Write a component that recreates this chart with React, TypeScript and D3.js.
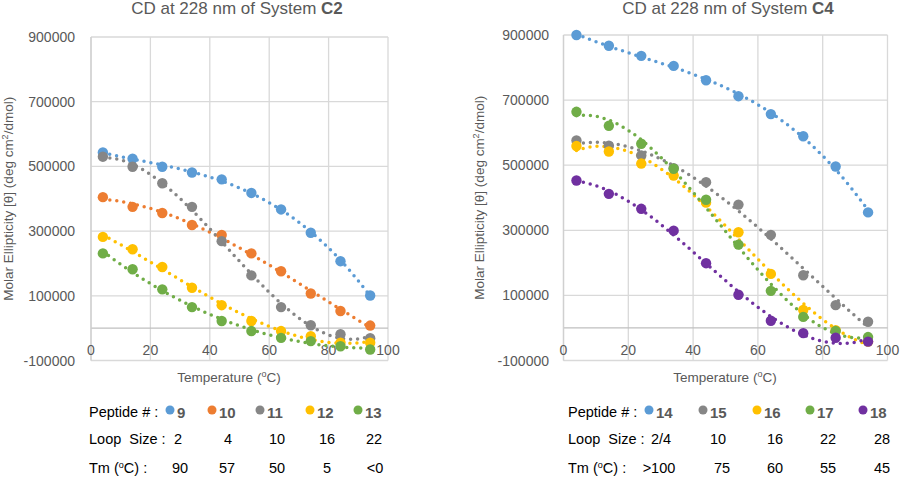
import React from "react";
import * as d3 from "d3";

const temperatures = [4, 14, 24, 34, 44, 54, 64, 74, 84, 94];

// System C2
const c2Peptides = ["9", "10", "11", "12", "13"];
const c2Loop = ["2", "4", "10", "16", "22"];
const c2Tm = ["90", "57", "50", "5", "<0"];
const p9 = [543000, 524000, 499000, 481000, 460000, 418000, 367000, 295000, 207000, 101000];
const p10 = [405000, 375000, 356000, 319000, 288000, 231000, 176000, 107000, 53000, 8000];
const p11 = [530000, 499000, 448000, 375000, 269000, 163000, 65000, 9000, -19000, -31000];
const p12 = [282000, 244000, 189000, 125000, 71000, 22000, -9000, -25000, -45000, -45000];
const p13 = [231000, 182000, 120000, 65000, 22000, -9000, -30000, -40000, -56000, -66000];

// System C4
const c4Peptides = ["14", "15", "16", "17", "18"];
const c4Loop = ["2/4", "10", "16", "22", "28"];
const c4Tm = [">100", "75", "60", "55", "45"];
const p14 = [900000, 867000, 836000, 805000, 761000, 712000, 657000, 589000, 496000, 355000];
const p15 = [576000, 560000, 530000, 491000, 448000, 379000, 286000, 162000, 70000, 19000];
const p16 = [559000, 542000, 505000, 468000, 385000, 294000, 166000, 55000, -7000, -42000];
const p17 = [664000, 621000, 566000, 489000, 394000, 256000, 114000, 34000, -9000, -28000];
const p18 = [453000, 412000, 366000, 299000, 199000, 102000, 22000, -16000, -30000, -42000];

const xTicks = [0, 20, 40, 60, 80, 100];
const yTicks = [-100000, 100000, 300000, 500000, 700000, 900000];

const BLUE = "#5B9BD5";
const ORANGE = "#ED7D31";
const GRAY = "#868686";
const YELLOW = "#FFC000";
const GREEN = "#70AD47";
const PURPLE = "#7030A0";

const FONT = "'Liberation Sans', Arial, sans-serif";
const TXT = "#595959";

function polyfit(xs: number[], ys: number[], order: number): number[] {
  const n = order + 1;
  const A: number[][] = [];
  for (let i = 0; i < n; i++) A.push(new Array(n + 1).fill(0));
  for (let k = 0; k < xs.length; k++) {
    const x = xs[k] / 100;
    for (let i = 0; i < n; i++) {
      for (let j = 0; j < n; j++) A[i][j] += Math.pow(x, i + j);
      A[i][n] += ys[k] * Math.pow(x, i);
    }
  }
  for (let c = 0; c < n; c++) {
    let p = c;
    for (let r = c + 1; r < n; r++) if (Math.abs(A[r][c]) > Math.abs(A[p][c])) p = r;
    const tmp = A[c];
    A[c] = A[p];
    A[p] = tmp;
    for (let r = 0; r < n; r++) {
      if (r === c) continue;
      const f = A[r][c] / A[c][c];
      for (let k = c; k <= n; k++) A[r][k] -= f * A[c][k];
    }
  }
  return A.map((row, i) => row[n] / row[i]);
}

function trend(xs: number[], ys: number[]) {
  const coef = polyfit(xs, ys, 3);
  const pts: [number, number][] = [];
  const lo = xs[0], hi = xs[xs.length - 1];
  for (let t = lo; t <= hi + 1e-9; t += 0.5) {
    const x = t / 100;
    let v = 0;
    coef.forEach((c, i) => (v += c * Math.pow(x, i)));
    pts.push([t, v]);
  }
  return pts;
}

type Series = { values: number[]; color: string };

type PanelProps = {
  x0: number;
  x1: number;
  yTop: number;
  yBot: number;
  title: string;
  bold: string;
  titleX: number;
  xTitleX: number;
  series: Series[];
  yLabelRight: number;
  yTitleX: number;
  legendX: number;
  dotX: number[];
  loopX: number[];
  tmX: number[];
  peptides: string[];
  loops: string[];
  tms: string[];
};

function Panel(p: PanelProps) {
  const x = d3.scaleLinear().domain([0, 100]).range([p.x0, p.x1]);
  const y = d3.scaleLinear().domain([-100000, 900000]).range([p.yBot, p.yTop]);
  const line = d3
    .line<[number, number]>()
    .x((d) => x(d[0]))
    .y((d) => y(d[1]));
  return (
    <g fontFamily={FONT}>
      <text x={p.titleX} y={14} textAnchor="middle" fontSize={17} fill={TXT}>
        {p.title}
        <tspan fontWeight="bold">{p.bold}</tspan>
      </text>
      {yTicks.map((t) => (
        <line key={"h" + t} x1={p.x0} x2={p.x1} y1={y(t)} y2={y(t)} stroke="#D9D9D9" strokeWidth={1.3} />
      ))}
      {xTicks.map((t) => (
        <line key={"v" + t} x1={x(t)} x2={x(t)} y1={p.yTop} y2={p.yBot} stroke="#D9D9D9" strokeWidth={1.3} />
      ))}
      <line x1={p.x0} x2={p.x1} y1={y(0)} y2={y(0)} stroke="#BFBFBF" strokeWidth={1.3} />
      <line x1={p.x0} x2={p.x0} y1={p.yTop} y2={p.yBot} stroke="#D0D0D0" strokeWidth={1.3} />
      {yTicks.map((t) => (
        <text key={"yl" + t} x={p.yLabelRight} y={y(t) + 5} textAnchor="end" fontSize={14} fill={TXT}>
          {t}
        </text>
      ))}
      {xTicks.map((t) => (
        <text key={"xl" + t} x={x(t)} y={355} textAnchor="middle" fontSize={14} fill={TXT}>
          {t}
        </text>
      ))}
      <text
        transform={`translate(${p.yTitleX},${(p.yTop + p.yBot) / 2}) rotate(-90)`}
        textAnchor="middle"
        fontSize={13.5}
        fill={TXT}
      >
        Molar Ellipticity [θ] (deg cm
        <tspan fontSize={9} dy={-5}>2</tspan>
        <tspan dy={5}>/dmol)</tspan>
      </text>
      <text x={p.xTitleX} y={382} textAnchor="middle" fontSize={13.5} fill={TXT}>
        Temperature (<tspan fontSize={9} dy={-5}>o</tspan>
        <tspan dy={5}>C)</tspan>
      </text>
      {p.series.map((s, i) => (
        <path
          key={"t" + i}
          d={line(trend(temperatures, s.values)) || ""}
          fill="none"
          stroke={s.color}
          strokeWidth={3.5}
          strokeDasharray="0 7"
          strokeLinecap="round"
        />
      ))}
      {p.series.map((s, i) => (
        <g key={"m" + i}>
          {s.values.map((v, j) => (
            <circle key={j} cx={x(temperatures[j])} cy={y(v)} r={5.2} fill={s.color} />
          ))}
        </g>
      ))}
      <g fontSize={14.5} fill="#000">
        <text x={p.legendX} y={417}>Peptide # :</text>
        <text x={p.legendX} y={444} xmlSpace="preserve">Loop  Size :</text>
        <text x={p.legendX} y={473}>
          Tm (<tspan fontSize={9} dy={-5}>o</tspan>
          <tspan dy={5}>C)  :</tspan>
        </text>
      </g>
      {p.peptides.map((name, i) => (
        <g key={"lg" + i}>
          <circle cx={p.dotX[i]} cy={410} r={4.5} fill={p.series[i].color} />
          <text x={p.dotX[i] + 7} y={418} fontSize={15} fontWeight="bold" fill={TXT}>
            {name}
          </text>
          <text x={p.loopX[i]} y={444} textAnchor="middle" fontSize={14.5} fill="#000">
            {p.loops[i]}
          </text>
          <text x={p.tmX[i]} y={473} textAnchor="middle" fontSize={14.5} fill="#000">
            {p.tms[i]}
          </text>
        </g>
      ))}
    </g>
  );
}

export default function App() {
  return (
    <svg width={900} height={477} style={{ position: "absolute", left: 0, top: 0, background: "#fff" }}>
      <rect width={900} height={477} fill="#fff" />
      <Panel
        x0={91}
        x1={388}
        yTop={37}
        yBot={360.5}
        title="CD at 228 nm of System "
        bold="C2"
        titleX={237}
        xTitleX={229}
        series={[
          { values: p9, color: BLUE },
          { values: p10, color: ORANGE },
          { values: p11, color: GRAY },
          { values: p12, color: YELLOW },
          { values: p13, color: GREEN },
        ]}
        yLabelRight={75}
        yTitleX={13}
        legendX={89}
        dotX={[170, 212, 260, 310, 358]}
        loopX={[178, 228, 277, 327, 374]}
        tmX={[180, 227, 277, 327, 375]}
        peptides={c2Peptides}
        loops={c2Loop}
        tms={c2Tm}
      />
      <Panel
        x0={563.5}
        x1={887.5}
        yTop={35}
        yBot={360.5}
        title="CD at 228 nm of System "
        bold="C4"
        titleX={728}
        xTitleX={725}
        series={[
          { values: p14, color: BLUE },
          { values: p15, color: GRAY },
          { values: p16, color: YELLOW },
          { values: p17, color: GREEN },
          { values: p18, color: PURPLE },
        ]}
        yLabelRight={549}
        yTitleX={484}
        legendX={568}
        dotX={[649, 703, 757, 810, 863]}
        loopX={[661, 718, 775, 828, 882]}
        tmX={[659, 722, 775, 828, 882]}
        peptides={c4Peptides}
        loops={c4Loop}
        tms={c4Tm}
      />
    </svg>
  );
}
